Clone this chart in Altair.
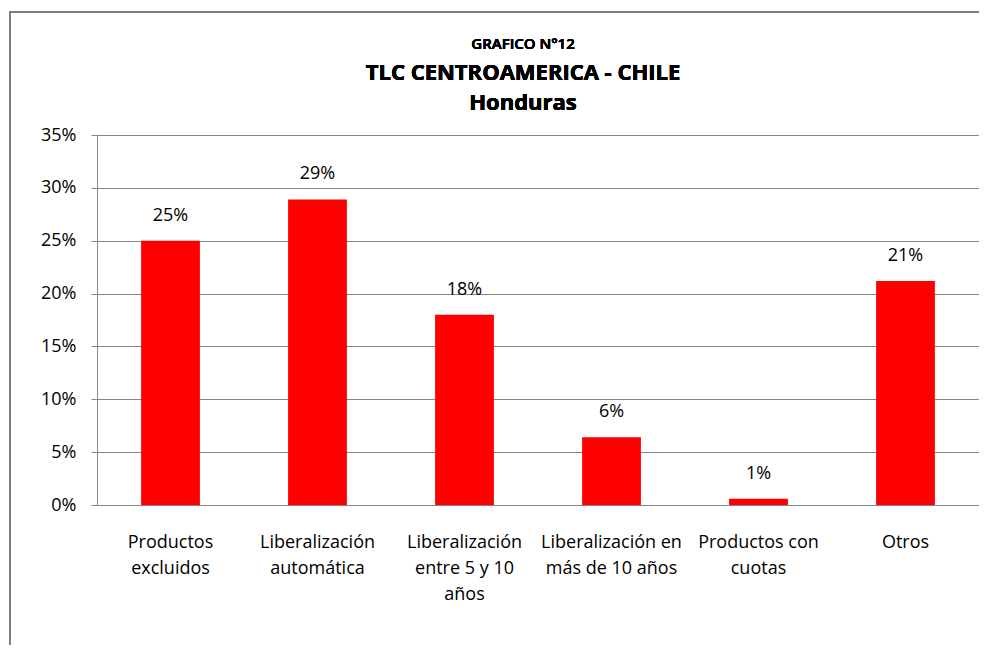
import altair as alt
import pandas as pd

categories = [
    "Productos\nexcluidos",
    "Liberalización\nautomática",
    "Liberalización\nentre 5 y 10\naños",
    "Liberalización en\nmás de 10 años",
    "Productos con\ncuotas",
    "Otros",
]
values = [0.250, 0.289, 0.180, 0.064, 0.006, 0.212]
y_ticks = [0, 0.05, 0.10, 0.15, 0.20, 0.25, 0.30, 0.35]
title_lines = ["GRAFICO N°12", "TLC CENTROAMERICA - CHILE", "Honduras"]

df = pd.DataFrame({"cat": categories, "val": values})

FONT = "Open Sans"
W, H = 882, 370
PL, PT = 89, 127

x_enc = alt.X(
    "cat:N", sort=categories, title=None,
    scale=alt.Scale(paddingInner=0.6, paddingOuter=0.3),
    axis=alt.Axis(
        labelExpr="split(datum.label, '\\n')", labelAngle=0, ticks=False,
        labelPadding=37, labelFontSize=18, labelLineHeight=26,
        labelColor="#000000", labelFont=FONT, labelBaseline="middle",
        domainColor="#868686", labelLimit=300,
    ),
)
y_enc = alt.Y(
    "val:Q", title=None,
    scale=alt.Scale(domain=[0, 0.35], nice=False),
    axis=alt.Axis(
        values=y_ticks, format=".0%", tickSize=6, tickColor="#868686",
        domainColor="#868686", gridColor="#868686", labelFontSize=18,
        labelColor="#000000", labelFont=FONT, labelPadding=15,
    ),
)

border = alt.Chart(df).mark_rect(
    fill=None, stroke="#7f7f7f", strokeWidth=2
).encode(
    x=alt.value(-(PL - 2)), x2=alt.value(W + 200),
    y=alt.value(-(PT - 4)), y2=alt.value(H + 400),
)

t1 = alt.Chart(df).mark_text(
    text=title_lines[0], font=FONT, fontSize=15, fontWeight=600, color="#000000"
).encode(x=alt.value(426), y=alt.value(-91))
t2 = alt.Chart(df).mark_text(
    text=title_lines[1], font=FONT, fontSize=22, fontWeight="bold", color="#000000"
).encode(x=alt.value(426), y=alt.value(-62))
t3 = alt.Chart(df).mark_text(
    text=title_lines[2], font=FONT, fontSize=22, fontWeight="bold", color="#000000"
).encode(x=alt.value(426), y=alt.value(-32))

bars = alt.Chart(df).mark_bar(color="#ff0000").encode(x=x_enc, y=y_enc)
labels = alt.Chart(df).mark_text(
    baseline="middle", dy=-25, fontSize=18, font=FONT, color="#000000"
).encode(x=alt.X("cat:N", sort=categories), y="val:Q", text=alt.Text("val:Q", format=".0%"))

chart = alt.layer(border, t1, t2, t3, bars, labels).properties(
    width=W, height=H,
    autosize=alt.AutoSizeParams(type="none"),
    padding={"left": PL, "top": PT, "right": 0, "bottom": 140},
).configure_view(stroke=None).configure_axis(grid=True).configure_axisX(grid=False)

chart.save("out.html", embed_options={"renderer": "svg", "actions": False})
